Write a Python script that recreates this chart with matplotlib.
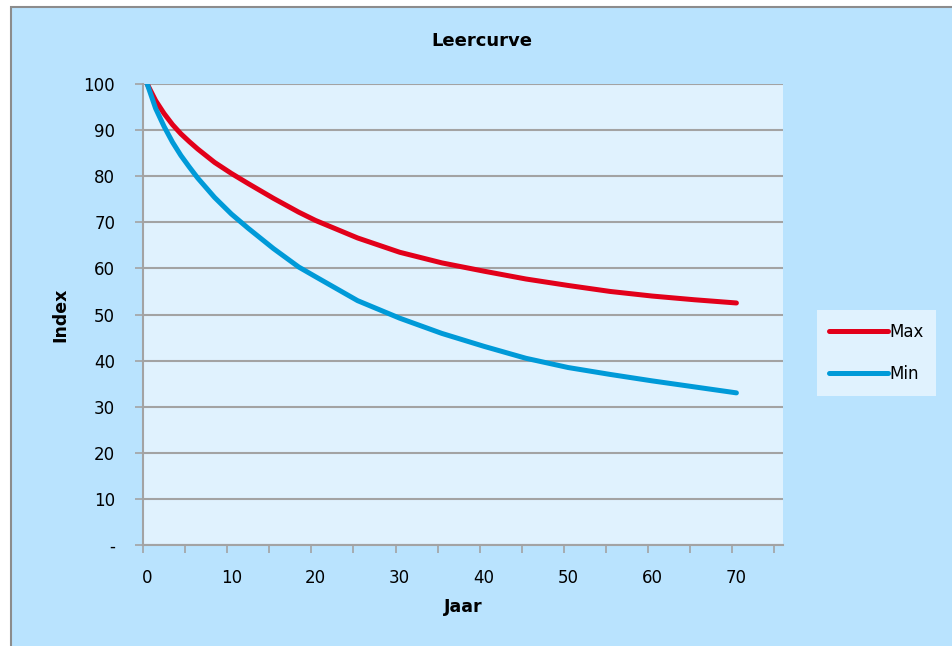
import matplotlib
matplotlib.use("Agg")
from matplotlib import pyplot as plt
from matplotlib.patches import Rectangle
from matplotlib.ticker import FixedLocator, FixedFormatter

# Values
jaar = [0, 1, 2, 3, 4, 5, 6, 8, 10, 12, 15, 18, 20, 25, 30, 35, 40, 45, 50, 55, 60, 65, 70]
max_index = [100, 96.4, 93.6, 91.2, 89.2, 87.5, 85.9, 83.0, 80.6, 78.4, 75.2, 72.2, 70.4,
             66.6, 63.5, 61.2, 59.4, 57.7, 56.3, 55.0, 54.0, 53.2, 52.5]
min_index = [100, 94.7, 90.8, 87.4, 84.5, 82.0, 79.6, 75.4, 71.8, 68.7, 64.3, 60.3, 58.2,
             53.0, 49.2, 45.9, 43.1, 40.5, 38.5, 37.0, 35.6, 34.3, 33.0]

y_ticks = [0, 10, 20, 30, 40, 50, 60, 70, 80, 90, 100]
y_labels = ['-', '10', '20', '30', '40', '50', '60', '70', '80', '90', '100']
x_labels = [0, 10, 20, 30, 40, 50, 60, 70]

outer_bg = '#b9e3fe'
plot_bg = '#e0f2fe'
grid_c = '#a3a3a3'

fig = plt.figure(figsize=(9.53, 6.46), dpi=100)
fig.patch.set_facecolor('white')
fig.patches.append(Rectangle((11/953, -0.05), 1.0, 1.05 - 7/646,
                             transform=fig.transFigure, facecolor=outer_bg,
                             edgecolor='#8c8c8c', linewidth=1.5, zorder=-10))

ax = fig.add_axes([143/953, 101/646, 639.7/953, 461/646])
ax.set_facecolor(plot_bg)

ax.plot(jaar, max_index, color='#e2001a', linewidth=3.6, solid_capstyle='round',
        solid_joinstyle='round', label='Max', zorder=3)
ax.plot(jaar, min_index, color='#009ad8', linewidth=3.6, solid_capstyle='round',
        solid_joinstyle='round', label='Min', zorder=3)

ax.set_xlim(-0.5, 75.5)
ax.set_ylim(0, 100)

## y axis
ax.yaxis.set_major_locator(FixedLocator(y_ticks))
ax.yaxis.set_major_formatter(FixedFormatter(y_labels))
ax.tick_params(axis='y', direction='out', length=6, width=1.2, color=grid_c,
               pad=14, labelsize=12)
ax.grid(axis='y', color=grid_c, linewidth=1.5, zorder=1)

## x axis: tick marks between categories, labels centred on categories
ax.xaxis.set_major_locator(FixedLocator(x_labels))
ax.xaxis.set_minor_locator(FixedLocator([k - 0.5 for k in range(0, 80, 5)]))
ax.tick_params(axis='x', which='major', length=0, pad=17, labelsize=12)
ax.tick_params(axis='x', which='minor', direction='out', length=6, width=1.2, color=grid_c)

for side in ['top', 'right']:
    ax.spines[side].set_visible(False)
for side in ['left', 'bottom']:
    ax.spines[side].set_color(grid_c)
    ax.spines[side].set_linewidth(1.5)

ax.set_axisbelow(True)

fig.text(482/953, 1 - 41/646, 'Leercurve', ha='center', va='center',
         fontsize=13, fontweight='bold')
fig.text(60/953, 1 - 315/646, 'Index', ha='center', va='center', rotation=90,
         fontsize=12.5, fontweight='bold')
fig.text(463/953, 1 - 607/646, 'Jaar', ha='center', va='center',
         fontsize=12.5, fontweight='bold')

leg = ax.legend(loc='center left', bbox_to_anchor=(817/953, 1 - 353/646),
                bbox_transform=fig.transFigure, frameon=True, fancybox=False,
                fontsize=12, handlelength=3.5, handletextpad=0.1,
                labelspacing=1.45, borderpad=0.75, borderaxespad=0)
leg.get_frame().set_facecolor(plot_bg)
leg.get_frame().set_edgecolor('none')
leg.get_frame().set_alpha(1)

fig.savefig('out.png', dpi=100, facecolor=fig.get_facecolor())
